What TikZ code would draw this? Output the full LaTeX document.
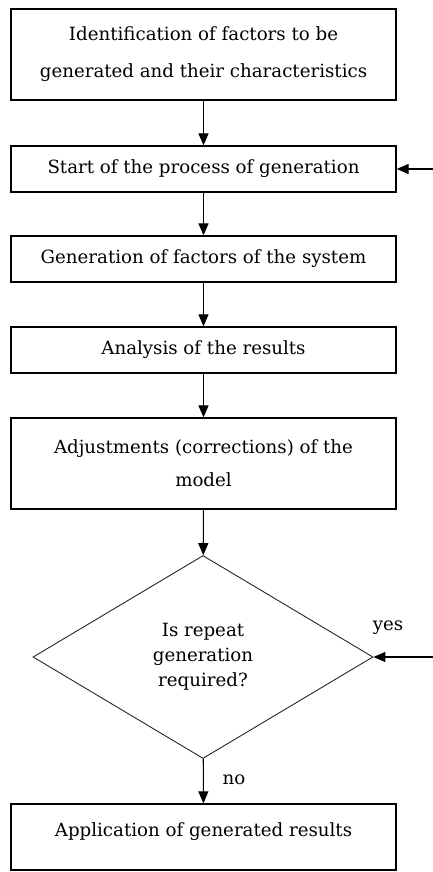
\documentclass[tikz,border=0pt]{standalone}
\usepackage{fontspec}
\setmainfont{DejaVu Serif}
\usetikzlibrary{shapes.geometric,arrows.meta}
\begin{document}
\begin{tikzpicture}[x=1pt,y=-1pt,
  stepbox/.style={draw=black,line width=1.3pt,minimum width=385pt,inner sep=0pt,align=center,
    font=\fontsize{18.2}{37}\selectfont},
  decision/.style={draw=black!85,line width=0.9pt,shape=diamond,minimum width=340pt,minimum height=203pt,
    inner sep=0pt,align=center,font=\fontsize{18.2}{25}\selectfont},
  arr/.style={line width=1.1pt,-{Triangle[length=12pt,width=10pt]}},
  lbl/.style={font=\fontsize{18.2}{20}\selectfont,inner sep=0pt}]
\useasboundingbox (0,0) rectangle (433,872);
\node[stepbox,minimum height=91pt] (b1) at (203.5,54.5) {Identification of factors to be\\generated and their characteristics};
\node[stepbox,minimum height=46pt] (b2) at (203.5,169) {Start of the process of generation};
\node[stepbox,minimum height=46pt] (b3) at (203.5,259) {Generation of factors of the system};
\node[stepbox,minimum height=46pt] (b4) at (203.5,350) {Analysis of the results};
\node[stepbox,minimum height=91pt,font=\fontsize{18.2}{33}\selectfont] (b5) at (203.5,463.5) {Adjustments (corrections) of the\\model};
\node[decision] (d) at (203,657) {Is repeat\\generation\\required?};
\node[stepbox,minimum height=66pt] (b6) at (203.5,837) {Application of generated results\\[-34pt]\strut};
\coordinate (in1) at (434,169);
\coordinate (in2) at (434,657);
\draw[arr] (b1) -- (b2);
\draw[arr] (b2) -- (b3);
\draw[arr] (b3) -- (b4);
\draw[arr] (b4) -- (b5);
\draw[arr] (b5) -- (d);
\draw[arr] (d) -- (b6);
\draw[arr] (in1) -- (b2);
\draw[arr] (in2) -- (d.east);
\node[lbl] (yes) at (388,628) {yes};
\node[lbl] (no) at (234,780) {no};
\end{tikzpicture}
\end{document}
